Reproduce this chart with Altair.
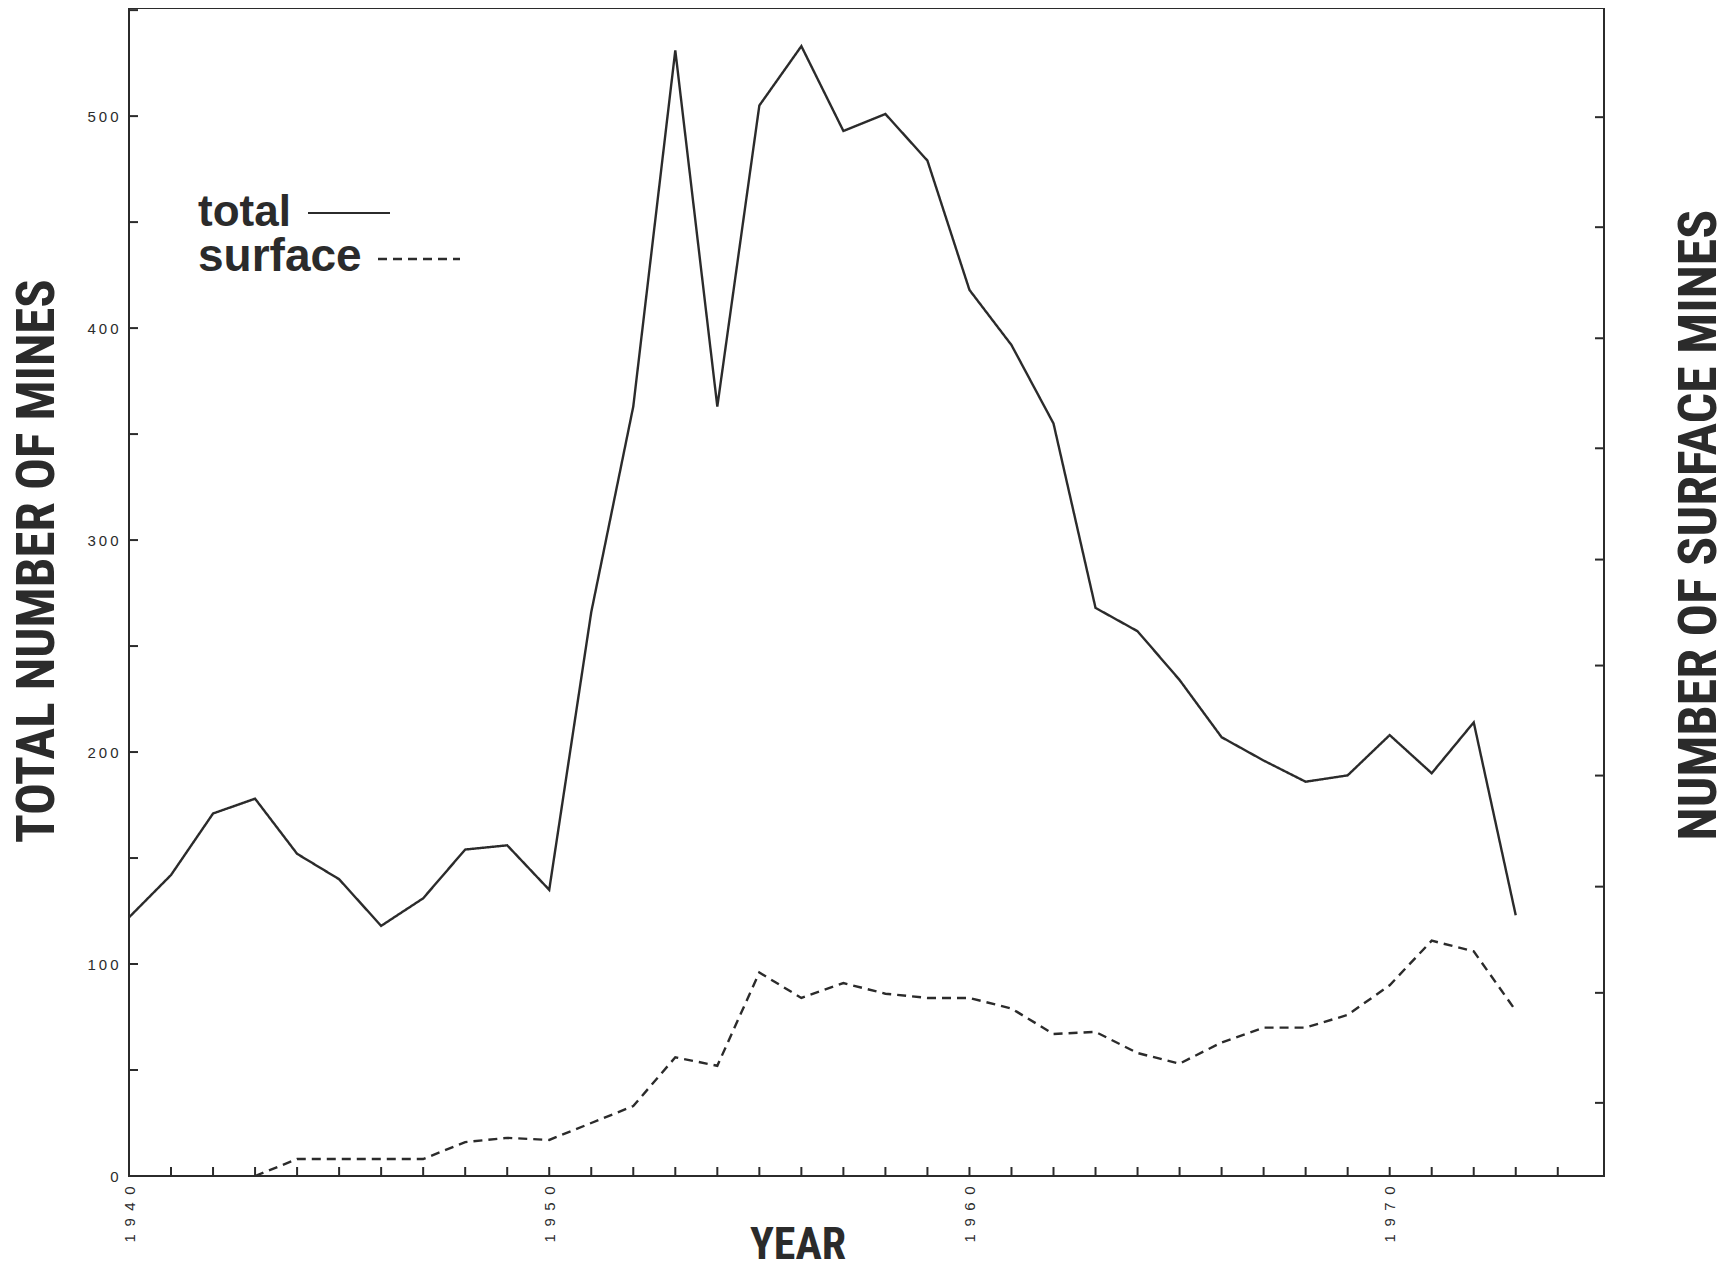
import altair as alt
import pandas as pd

# ---- data ----
years_total = list(range(1940, 1974))
total = [122, 142, 171, 178, 152, 140, 118, 131, 154, 156,
         135, 266, 363, 531, 363, 505, 533, 493, 501, 479,
         418, 392, 355, 268, 257, 234, 207, 196, 186, 189,
         208, 190, 214, 123]

years_surface = list(range(1943, 1974))
surface = [0, 8, 8, 8, 8, 16, 18, 17, 25, 33,
           56, 52, 96, 84, 91, 86, 84, 84, 79, 67,
           68, 58, 53, 63, 70, 70, 76, 90, 111, 106,
           78]

x_label_years = [1940, 1950, 1960, 1970]
x_tick_years = list(range(1941, 1975))
y_label_values = [0, 100, 200, 300, 400, 500]
y_tick_values = [50, 100, 150, 200, 250, 300, 350, 400, 450, 500, 550]
right_tick_values = [34.5, 86.4, 136.5, 188.9, 240.8, 290.8, 343.3, 395.2, 447.6, 499.5]

left_title = ["TOTAL NUMBER OF MINES"]
right_title = ["NUMBER OF SURFACE MINES"]
x_title = ["YEAR"]
legend_labels = ["total", "surface"]

W, H = 1475, 1168
INK = "#2b2b2b"
NARROW = "Roboto Condensed, DejaVu Sans Condensed, Liberation Sans Narrow, Arial Narrow, Liberation Sans, sans-serif"
SANS = "Liberation Sans, Arial, sans-serif"

xscale = alt.Scale(domain=[1940, 1975.1], nice=False, zero=False)
yscale = alt.Scale(domain=[0, 551], nice=False, zero=False)

x_axis = alt.Axis(values=x_label_years, format="d", title=None, ticks=False,
                  domain=False, grid=False, labelAngle=270, labelAlign="right",
                  labelBaseline="middle", labelPadding=10, labelFontSize=15,
                  labelFont=SANS, labelColor=INK,
                  labelExpr="slice(datum.label,0,1)+'\u2002'+slice(datum.label,1,2)+'\u2002'+slice(datum.label,2,3)+'\u2002'+slice(datum.label,3,4)")
y_axis = alt.Axis(values=y_label_values, format="d", title=None, ticks=False,
                  domain=False, grid=False, labelPadding=11, labelFontSize=15,
                  labelFont=SANS, labelColor=INK,
                  labelExpr="length(datum.label)==3 ? slice(datum.label,0,1)+'\u2009'+slice(datum.label,1,2)+'\u2009'+slice(datum.label,2,3) : datum.label")

df = pd.concat([
    pd.DataFrame({"year": years_total, "value": total, "series": "total"}),
    pd.DataFrame({"year": years_surface, "value": surface, "series": "surface"}),
])

lines = alt.Chart(df).mark_line(color=INK, strokeWidth=2.4).encode(
    x=alt.X("year:Q", scale=xscale, axis=x_axis),
    y=alt.Y("value:Q", scale=yscale, axis=y_axis),
    strokeDash=alt.StrokeDash("series:N",
                              scale=alt.Scale(domain=["total", "surface"], range=[[1, 0], [9, 6]]),
                              legend=None),
    detail="series:N",
)

xticks = alt.Chart(pd.DataFrame({"year": x_tick_years})).mark_rule(color=INK, strokeWidth=2).encode(
    x=alt.X("year:Q", scale=xscale, axis=x_axis),
    y=alt.value(H), y2=alt.value(H - 9),
)
yticks = alt.Chart(pd.DataFrame({"value": y_tick_values})).mark_rule(color=INK, strokeWidth=2).encode(
    y=alt.Y("value:Q", scale=yscale, axis=y_axis),
    x=alt.value(0), x2=alt.value(9),
)
rticks = alt.Chart(pd.DataFrame({"value": right_tick_values})).mark_rule(color=INK, strokeWidth=2).encode(
    y=alt.Y("value:Q", scale=yscale, axis=y_axis),
    x=alt.value(W - 9), x2=alt.value(W),
)

def text_layer(labels, x, y, size, angle=0, align="center", baseline="middle", font=NARROW):
    kw = dict(fontSize=size, fontWeight="bold", font=font, color=INK, align=align, baseline=baseline)
    if angle:
        kw["angle"] = angle
    return alt.Chart(pd.DataFrame({"t": labels})).mark_text(**kw).encode(
        text="t:N", x=alt.value(x), y=alt.value(y))

t_left = text_layer(left_title, -91, 553, 53, angle=270)
t_right = text_layer(right_title, 1571, 517, 54, angle=270)
t_x = text_layer(x_title, 669, 1238, 44)
leg_total = text_layer([legend_labels[0]], 69, 218, 44, align="left", baseline="alphabetic", font=SANS)
leg_surface = text_layer([legend_labels[1]], 69, 263, 46, align="left", baseline="alphabetic", font=SANS)

leg_line1 = alt.Chart(pd.DataFrame({"s": ["total"]})).mark_rule(color=INK, strokeWidth=2).encode(
    x=alt.value(179), x2=alt.value(261), y=alt.value(205))
leg_line2 = alt.Chart(pd.DataFrame({"s": ["surface"]})).mark_rule(color=INK, strokeWidth=2.4, strokeDash=[9, 6]).encode(
    x=alt.value(249), x2=alt.value(331), y=alt.value(251))

chart = alt.layer(
    lines, xticks, yticks, rticks, t_left, t_right, t_x,
    leg_total, leg_surface, leg_line1, leg_line2,
).properties(
    width=W, height=H,
    autosize=alt.AutoSizeParams(type="none"),
    padding={"left": 121, "top": 0, "right": 118, "bottom": 87},
    background="white",
).configure_view(stroke=INK, strokeWidth=2)

chart.save("out.html", embed_options={"renderer": "svg", "actions": False})
